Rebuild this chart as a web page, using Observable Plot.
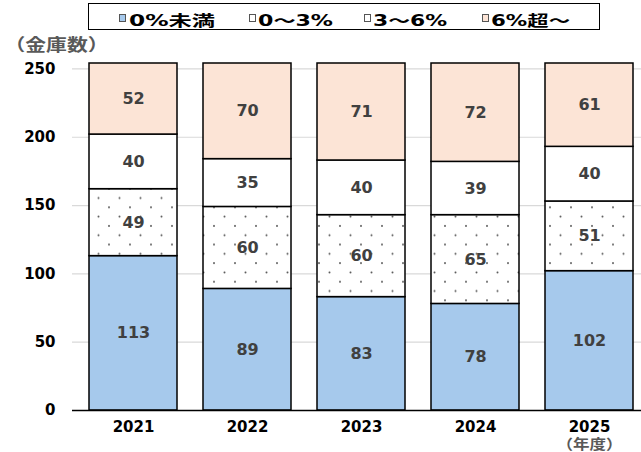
<!DOCTYPE html>
<html>
<head>
<meta charset="utf-8">
<script src="https://cdn.jsdelivr.net/npm/d3@7"></script>
<script src="https://cdn.jsdelivr.net/npm/@observablehq/plot@0.6"></script>
<style>
  body { margin: 0; background: white; }
  #wrap { width: 641px; height: 452px; position: relative; background: white; }
  #legend { position: relative; width: 641px; height: 36px; }
  #legend .box { position: absolute; left: 88px; top: 3px; width: 510px; height: 25px; border: 1.5px solid #000; box-sizing: content-box; }
  #legend .txt { position: absolute; top: 9px; height: 17px; line-height: 17px; font: bold 15px "DejaVu Sans", "Noto Sans CJK JP", sans-serif; color: #000; white-space: nowrap; transform-origin: 0 50%; }
  #legend .sw { position: absolute; top: 14px; width: 7px; height: 8px; border: 1px solid #555; box-sizing: border-box; }
</style>
</head>
<body>
<div id="wrap">
  <div id="legend"><div class="box"></div></div>
  <div id="chart"></div>
</div>
<script>
const years = ["2021", "2022", "2023", "2024", "2025"];
const series = ["0%未満", "0～3%", "3～6%", "6%超～"];
const below0 = [113, 89, 83, 78, 102];
const r0to3 = [49, 60, 60, 65, 51];
const r3to6 = [40, 35, 40, 39, 40];
const over6 = [52, 70, 71, 72, 61];
const yTicks = [0, 50, 100, 150, 200, 250];
const yLabel = "（金庫数）";
const xLabel = "（年度）";

const seriesValues = [below0, r0to3, r3to6, over6];
// 0%未満 blue, 0～3% dotted, 3～6% white, 6%超～ peach
const fillRange = ["#A6C9EC", "url(#dots)", "#FFFFFF", "#FCE4D6"];
const swatch = ["#A6C9EC", "#FFFFFF", "#FFFFFF", "#FCE4D6"];

const rows = [];
series.forEach((s, i) => years.forEach((y, j) => rows.push({year: y, series: s, value: seriesValues[i][j]})));

// legend (HTML, above the SVG)
const legendSw = [119, 249, 364, 482];
const legendTxt = [[129, 215], [258, 333], [373, 447], [491, 570]];
const legend = document.getElementById("legend");
series.forEach((s, i) => {
  const sw = document.createElement("div");
  sw.className = "sw";
  sw.style.left = legendSw[i] + "px";
  sw.style.background = swatch[i];
  legend.appendChild(sw);
  const t = document.createElement("div");
  t.className = "txt";
  t.style.left = legendTxt[i][0] + "px";
  t.textContent = s;
  legend.appendChild(t);
  const w = t.getBoundingClientRect().width;
  t.style.transform = `scaleX(${(legendTxt[i][1] - legendTxt[i][0]) / w})`;
});

const font = '"DejaVu Sans", "Noto Sans CJK JP", sans-serif';
const chart = Plot.plot({
  width: 641,
  height: 416,
  marginLeft: 72,
  marginRight: 0,
  marginTop: 27,
  marginBottom: 42,
  style: {fontFamily: font, fontSize: "15px", fontWeight: "bold", color: "#000", background: "white"},
  x: {domain: years, paddingInner: 0.23, paddingOuter: 0.0976, align: 0.683, label: null},
  y: {domain: [0, 254], label: null},
  color: {domain: series, range: fillRange},
  marks: [
    Plot.gridY(yTicks.filter(d => d > 0), {stroke: "#d9d9d9", strokeOpacity: 1, strokeWidth: 1.2}),
    Plot.barY(rows, {x: "year", y: "value", fill: "series", stroke: "#000", strokeWidth: 1.5, order: series}),
    Plot.text(rows, Plot.stackY({x: "year", y: "value", z: "series", order: series, text: "value", fill: "#404040", fontSize: 16, fontWeight: "bold"})),
    Plot.ruleY([0], {stroke: "#000", strokeWidth: 1.5}),
    Plot.axisY(yTicks, {tickSize: 0, tickPadding: 17, fill: "#000", fontSize: 15, fontWeight: "bold", label: null}),
    Plot.axisX(years, {tickSize: 0, tickPadding: 11, fill: "#000", fontSize: 15, fontWeight: "bold", label: null}),
    Plot.text([yLabel], {frameAnchor: "top-left", dx: -68, dy: -18, textAnchor: "start", lineAnchor: "middle", text: d => d, fill: "#595959", fontSize: 17, fontWeight: "bold"}),
    Plot.text([xLabel], {x: () => years[years.length - 1], frameAnchor: "bottom", dy: 34, lineAnchor: "middle", text: d => d, fill: "#595959", fontSize: 14, fontWeight: "bold"})
  ]
});

const svg = d3.select(chart);
const pat = svg.insert("defs", ":first-child").append("pattern")
  .attr("id", "dots").attr("patternUnits", "userSpaceOnUse")
  .attr("width", 21).attr("height", 18.6);
pat.append("rect").attr("width", 21).attr("height", 18.6).attr("fill", "#fff");
pat.append("circle").attr("cx", 4).attr("cy", 4).attr("r", 1).attr("fill", "#555");
pat.append("circle").attr("cx", 14.5).attr("cy", 13.3).attr("r", 1).attr("fill", "#555");

// horizontally widen the axis titles like the reference
svg.selectAll("text").filter(function() { return this.textContent === yLabel; })
  .attr("textLength", 104).attr("lengthAdjust", "spacingAndGlyphs");
svg.selectAll("text").filter(function() { return this.textContent === xLabel; })
  .attr("textLength", 66).attr("lengthAdjust", "spacingAndGlyphs");

document.getElementById("chart").appendChild(chart);
</script>
</body>
</html>
